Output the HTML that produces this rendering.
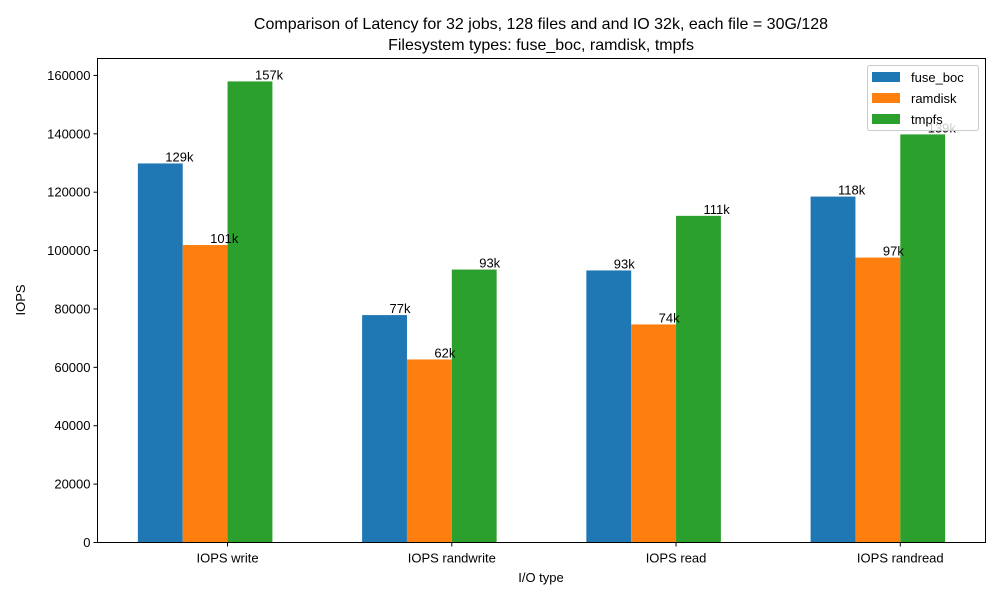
<!DOCTYPE html>
<html><head><meta charset="utf-8"><style>
body{margin:0;background:#fff;}
svg{display:block;font-family:"Liberation Sans","DejaVu Sans",sans-serif;}
</style></head><body>
<svg id="chart" width="1000" height="600" viewBox="0 0 1000 600" xmlns="http://www.w3.org/2000/svg">
<rect width="1000" height="600" fill="#fff"/>
<text x="541" y="29" text-anchor="middle" font-size="16">Comparison of Latency for 32 jobs, 128 files and  and IO 32k, each file = 30G/128</text>
<text x="541" y="50" text-anchor="middle" font-size="16">Filesystem types: fuse_boc, ramdisk, tmpfs</text>
<g id="plot"></g>
<rect x="97.5" y="58.5" width="888" height="484" fill="none" stroke="#000" stroke-width="1"/>
<text x="541" y="582" text-anchor="middle" font-size="13">I/O type</text>
<text transform="translate(25,300) rotate(-90)" text-anchor="middle" font-size="13">IOPS</text>
<g>
<rect x="867.5" y="65.5" width="111" height="65" rx="2" fill="#fff" fill-opacity="0.8" stroke="#ccc"/>
<rect x="872" y="72" width="28" height="10" fill="#1f77b4"/>
<text x="911" y="82" font-size="13">fuse_boc</text>
<rect x="872" y="93" width="28" height="10" fill="#ff7f0e"/>
<text x="911" y="103" font-size="13">ramdisk</text>
<rect x="872" y="114" width="28" height="10" fill="#2ca02c"/>
<text x="911" y="124" font-size="13">tmpfs</text>
</g>
</svg>
<script>
const categories = ["IOPS write","IOPS randwrite","IOPS read","IOPS randread"];
const fuseBoc = [129850, 77900, 93200, 118500];
const ramdisk = [101900, 62700, 74700, 97600];
const tmpfs = [157950, 93500, 111900, 139800];
const seriesNames = ["fuse_boc","ramdisk","tmpfs"];
const yTicks = [0,20000,40000,60000,80000,100000,120000,140000,160000];
const colors = ["#1f77b4","#ff7f0e","#2ca02c"];
const NS="http://www.w3.org/2000/svg";
const L=97.5,R=985.5,T=58.5,B=542.5;
const xmin=-0.58,xmax=3.38,ymax=165800;
function xs(v){return L+(v-xmin)/(xmax-xmin)*(R-L);}
function ys(v){return B-v/ymax*(B-T);}
const g=document.getElementById('plot');
function el(t,a){const e=document.createElementNS(NS,t);for(const k in a)e.setAttribute(k,a[k]);g.appendChild(e);return e;}
yTicks.forEach(v=>{
  const y=ys(v);
  const tk=el('line',{x1:L-4,x2:L,y1:y,y2:y,stroke:'#000'});
  
  
  const t=el('text',{x:L-7,y:y+4.5,'text-anchor':'end','font-size':13});
  
  
  t.textContent=v;
});
const bw=0.2;
const all=[fuseBoc,ramdisk,tmpfs];
categories.forEach((c,i)=>{
  const x=xs(i);
  const tk=el('line',{x1:x,x2:x,y1:B,y2:B+4,stroke:'#000'});
  
  
  const t=el('text',{x:x,y:B+20,'text-anchor':'middle','font-size':13});
  
  
  t.textContent=c;
});
all.forEach((s,j)=>{
  s.forEach((v,i)=>{
    const x0=xs(i+(j-2)*bw), x1=xs(i+(j-1)*bw);
    const r=el('rect',{x:x0,y:ys(v),width:x1-x0,height:B-ys(v),fill:colors[j]});
    
    
  });
});
all.forEach((s,j)=>{
  s.forEach((v,i)=>{
    const x0=xs(i+(j-2)*bw), x1=xs(i+(j-1)*bw);
    const t=el('text',{x:(x0+x1)/2+5,y:ys(v)-2,'font-size':13});
    
    
    t.textContent=Math.floor(v/1000)+'k';
  });
});
</script>
</body></html>
